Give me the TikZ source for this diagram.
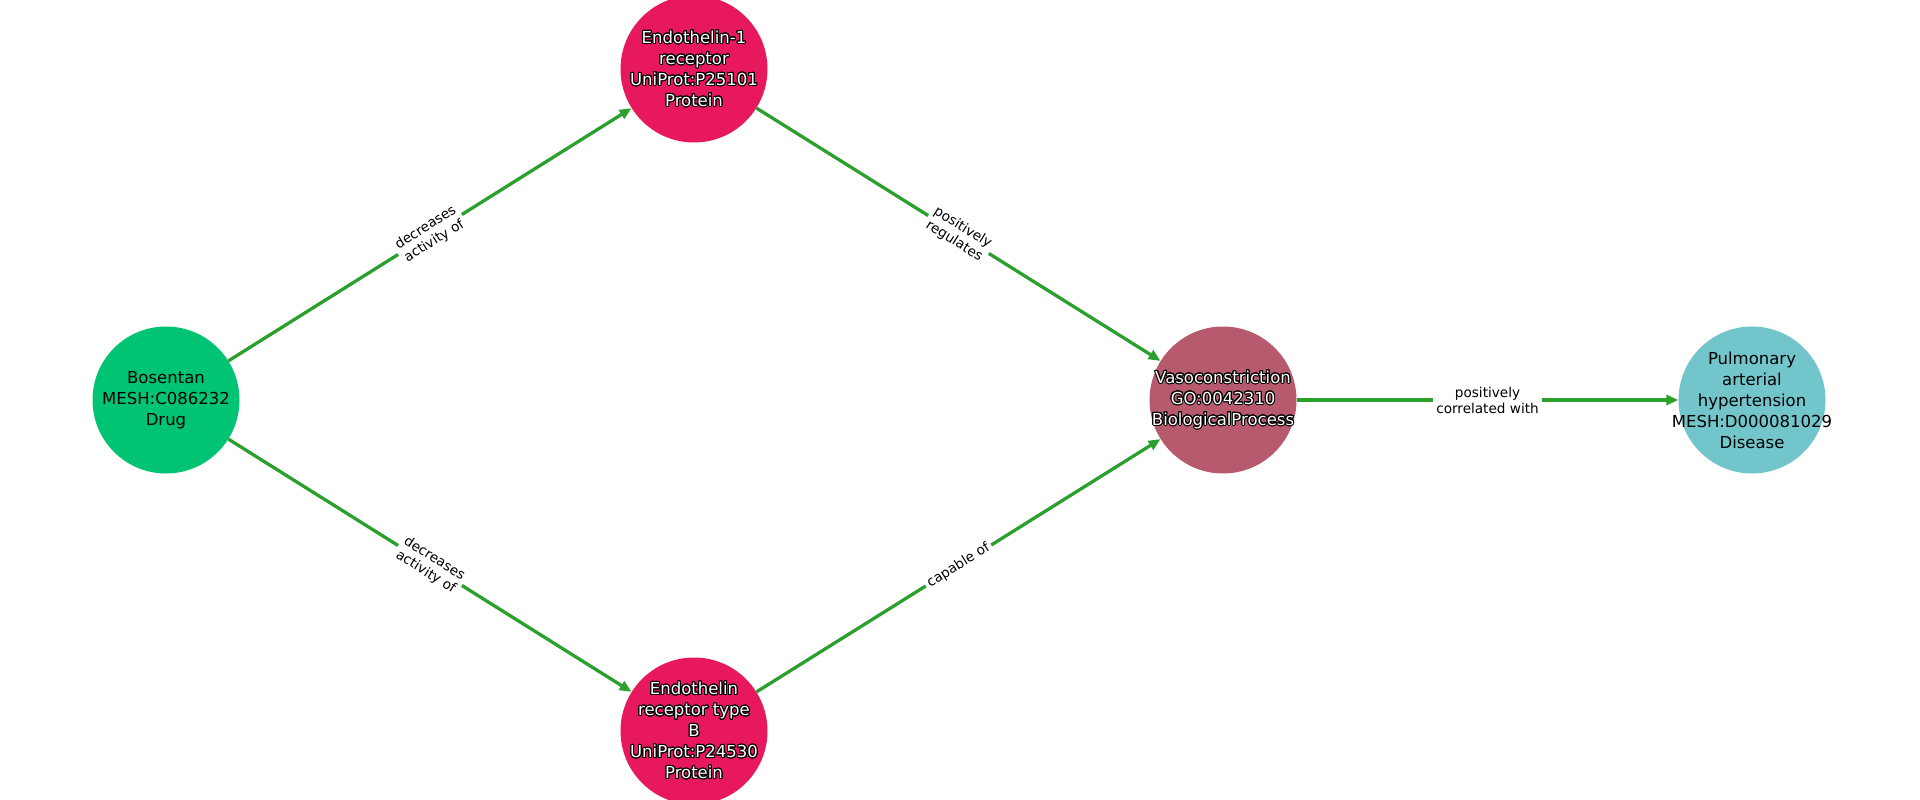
\documentclass[tikz,border=0pt]{standalone}
\usepackage{fontspec}
\setmainfont{DejaVu Sans}
\usepackage{contour}
\contourlength{1pt}
\contournumber{24}
\usetikzlibrary{arrows.meta}

\definecolor{drugcol}{RGB}{0,196,115}
\definecolor{protcol}{RGB}{232,24,95}
\definecolor{proccol}{RGB}{184,90,110}
\definecolor{discol}{RGB}{114,198,203}
\definecolor{edgecol}{RGB}{44,160,44}

\newcommand{\halo}[1]{{\color{white}\contour{black}{#1}}}

\begin{document}
\begin{tikzpicture}[
        x=1pt, y=-1pt,
        ->,>={Triangle[length=12pt,width=10pt]},
        every edge/.append style={draw=edgecol,line width=3.3pt}
    ]

    \tikzstyle{entity} = [circle,inner sep=0pt,minimum size=147pt]
    \tikzstyle{etext} = [inner sep=0pt,align=center,text=black,font=\fontsize{16.5}{21}\selectfont]
    \tikzstyle{rel} = [sloped,fill=white,inner sep=3pt,align=center,text=black,font=\fontsize{13.6}{16}\selectfont]

    \useasboundingbox (0,0) rectangle (1920,800);

    \node[entity,fill=drugcol,label={[etext]center:Bosentan\\MESH:C086232\\Drug}] (bosentan) at (166,400) {};
    \node[entity,fill=protcol,label={[etext]center:\halo{Endothelin-1}\\\halo{receptor}\\\halo{UniProt:P25101}\\\halo{Protein}}] (etA) at (694,69) {};
    \node[entity,fill=protcol,label={[etext]center:\halo{Endothelin}\\\halo{receptor type}\\\halo{B}\\\halo{UniProt:P24530}\\\halo{Protein}}] (etB) at (694,731) {};
    \node[entity,fill=proccol,label={[etext]center:\halo{Vasoconstriction}\\\halo{GO:0042310}\\\halo{BiologicalProcess}}] (vaso) at (1223,400) {};
    \node[entity,fill=discol,label={[etext]center:Pulmonary\\arterial\\hypertension\\MESH:D000081029\\Disease}] (pah) at (1752,400) {};

    \path
        (bosentan) edge node[rel] {decreases\\activity of} (etA)
        (bosentan) edge node[rel] {decreases\\activity of} (etB)
        (etA)      edge node[rel] {positively\\regulates} (vaso)
        (etB)      edge node[rel] {capable of} (vaso)
        (vaso)     edge node[rel] {positively\\correlated with} (pah)
    ;

\end{tikzpicture}
\end{document}
